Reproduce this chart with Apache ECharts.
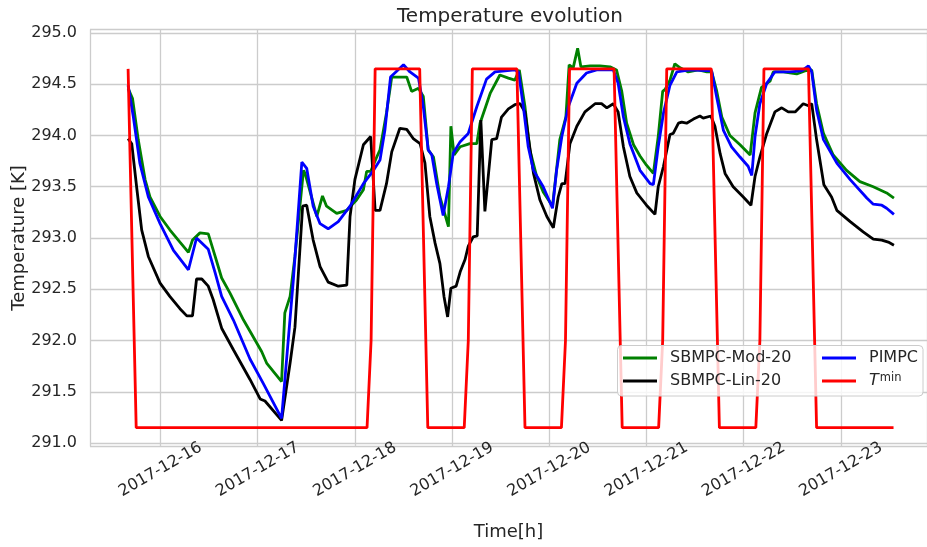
<!DOCTYPE html>
<html>
<head>
<meta charset="utf-8">
<script src="https://cdn.jsdelivr.net/npm/echarts@6/dist/echarts.min.js"></script>
<style>html,body{margin:0;padding:0;background:#fff}#c{width:927px;height:547px}</style>
</head>
<body>
<div id="c"></div>
<script>
// Time is given in hours since 2017-12-15 00:00
const xTickLabels = ['2017-12-16','2017-12-17','2017-12-18','2017-12-19','2017-12-20','2017-12-21','2017-12-22','2017-12-23'];

const modHours = [16,17.1,18.5,20.2,21.4,23.9,26.3,28.8,30.9,31.9,33.75,35.8,37.5,39.1,41.2,44.5,46.1,49.0,50.2,53.9,54.7,56.0,57.2,59.3,59.7,62.6,64.0,65.0,67.5,70.0,72.4,74.1,74.9,75.9,77.4,78.2,79.8,81.1,84.8,86.0,87.7,88.9,90.1,91.4,93.0,95.1,95.7,96.5,98.0,100.4,102.1,102.9,105.4,107.8,109.9,111.5,112.6,114.0,115.2,116.9,118.5,120.8,122.6,124.1,124.9,125.9,127.0,127.8,130.1,132.5,135.0,136.6,137.9,139.1,140.8,142.4,144.0,145.7,146.9,148.0,148.6,149.8,151.0,152.3,154.3,156.8,158.9,160.1,161.3,162.6,164.6,167.1,169.6,170.8,172.4,174.5,175.3,177.8,179.4,181.1,183.1,184.8,186.0,187.7,190.1,193.4,196.7,200.0,203.3,205.1];
const modValues = [294.46,294.36,293.96,293.57,293.40,293.21,293.08,292.96,292.86,292.98,293.05,293.04,292.82,292.61,292.46,292.20,292.09,291.89,291.78,291.60,292.27,292.43,292.82,293.66,293.63,293.21,293.41,293.31,293.24,293.27,293.37,293.47,293.65,293.65,293.79,293.86,294.22,294.57,294.57,294.43,294.46,294.38,293.86,293.79,293.40,293.11,294.09,293.81,293.89,293.92,293.92,294.12,294.41,294.59,294.56,294.54,294.64,294.28,293.86,293.60,293.45,293.31,293.96,294.18,294.69,294.66,294.85,294.67,294.68,294.68,294.67,294.64,294.43,294.12,293.91,293.80,293.71,293.63,293.99,294.43,294.45,294.54,294.70,294.66,294.62,294.64,294.62,294.62,294.44,294.18,294.00,293.91,293.81,294.22,294.47,294.53,294.62,294.62,294.61,294.60,294.63,294.64,294.31,294.02,293.81,293.66,293.55,293.50,293.44,293.39];

const linHours = [16,16.9,18.1,19.35,21.0,23.9,26.3,28.8,30.5,31.9,32.9,34.2,35.8,37.0,39.1,42.0,46.1,48.6,49.8,53.9,56.0,57.2,59.1,60.1,61.7,63.4,65.4,67.9,70.0,70.8,72.0,74.1,75.9,77.0,78.2,79.8,81.1,83.1,84.8,86.4,88.1,89.3,90.5,91.8,93.0,94.0,94.9,95.7,97.0,98.0,99.2,100.0,101.2,102.2,103.1,104.1,105.8,107.0,108.2,109.9,111.5,112.8,114.0,114.8,116.1,117.7,119.4,121.0,122.2,123.1,123.9,125.1,126.8,128.8,131.3,132.9,134.2,135.8,137.0,138.3,139.9,141.6,142.4,144.0,146.1,146.9,148.2,149.8,150.6,151.9,152.7,153.9,155.6,157.2,158.0,159.9,160.9,162.2,163.4,165.4,167.9,169.8,170.8,172.0,173.7,175.7,177.4,179.0,180.7,182.7,184.0,184.8,186.0,187.8,189.7,191.0,194.3,197.5,200.0,202.1,203.7,205.1];
const linValues = [293.97,293.92,293.50,293.08,292.82,292.56,292.43,292.31,292.24,292.24,292.60,292.60,292.53,292.40,292.12,291.91,291.62,291.43,291.41,291.22,291.78,292.13,293.31,293.32,292.98,292.72,292.57,292.53,292.54,293.21,293.57,293.91,293.99,293.27,293.27,293.53,293.84,294.07,294.06,293.97,293.92,293.73,293.21,292.95,292.75,292.43,292.23,292.51,292.53,292.67,292.79,292.92,293.01,293.02,294.15,293.26,293.96,293.97,294.18,294.26,294.30,294.31,294.23,293.99,293.63,293.37,293.21,293.10,293.40,293.53,293.53,293.92,294.09,294.23,294.31,294.31,294.27,294.31,294.23,293.89,293.60,293.44,293.40,293.32,293.23,293.50,293.70,294.01,294.02,294.12,294.13,294.12,294.16,294.19,294.17,294.19,294.09,293.82,293.63,293.50,293.40,293.32,293.60,293.79,294.02,294.23,294.27,294.23,294.23,294.31,294.29,294.31,293.96,293.52,293.40,293.27,293.16,293.06,292.99,292.98,292.96,292.93];

const piHours = [16,17.3,18.9,21.0,23.9,27.2,30.9,32.9,35.8,37.5,39.1,42.0,46.1,49.4,53.9,56.8,58.9,60.1,61.7,63.4,65.4,67.9,70.8,74.1,76.6,78.2,79.4,80.8,84.0,85.6,87.7,88.9,90.1,91.0,92.2,93.8,95.1,96.3,98.0,100.0,102.1,104.5,106.6,111.5,112.4,113.6,114.8,116.1,118.5,120.8,121.8,123.1,124.7,126.8,129.2,131.7,135.8,137.0,138.3,139.9,142.4,144.9,145.7,146.9,148.2,149.8,151.5,154.7,160.1,161.3,163.0,165.0,167.1,169.1,170.0,170.8,172.0,173.7,175.7,179.4,182.3,184.0,184.8,186.0,187.7,191.0,194.3,198.4,200.0,202.1,203.3,205.1];
const piValues = [294.49,294.18,293.73,293.40,293.14,292.88,292.69,293.00,292.89,292.66,292.43,292.20,291.82,291.58,291.24,292.59,293.74,293.68,293.31,293.14,293.09,293.16,293.31,293.53,293.66,293.76,294.05,294.57,294.69,294.62,294.56,294.28,293.86,293.81,293.53,293.22,293.50,293.83,293.94,294.02,294.28,294.55,294.62,294.64,294.62,294.28,293.89,293.66,293.50,293.29,293.66,293.99,294.28,294.51,294.61,294.64,294.64,294.51,294.18,293.92,293.66,293.53,293.52,293.89,294.22,294.49,294.62,294.64,294.63,294.38,294.05,293.89,293.79,293.70,293.61,293.99,294.31,294.51,294.62,294.62,294.63,294.68,294.62,294.25,293.96,293.73,293.57,293.39,293.33,293.32,293.29,293.23];

const tminHours = [16,18,75,76,77,88,90,99,100,101,112,114,123,124,125,136,138,147,148,149,160,162,171,172,173,184,186,205];
const tminValues = [294.65,291.15,291.15,292.0,294.65,294.65,291.15,291.15,292.0,294.65,294.65,291.15,291.15,292.0,294.65,294.65,291.15,291.15,292.0,294.65,294.65,291.15,291.15,292.0,294.65,294.65,291.15,291.15];

const seriesNames = ['SBMPC-Mod-20','SBMPC-Lin-20','PIMPC','Tmin'];
const seriesColors = ['#008000','#000000','#0000ff','#ff0000'];

function toPoints(hours, values) {
  return hours.map((h, i) => [(h - 24) / 24, values[i]]);
}

const FONT = 'DejaVu Sans';
const TXT = '#262626';
const chart = echarts.init(document.getElementById('c'), null, {renderer: 'canvas'});

const dataSets = [[modHours, modValues],[linHours, linValues],[piHours, piValues],[tminHours, tminValues]];
const series = dataSets.map((d, i) => ({
  name: seriesNames[i],
  type: 'line',
  data: toPoints(d[0], d[1]),
  symbol: 'none',
  showSymbol: false,
  lineStyle: {color: seriesColors[i], width: 2.8},
  itemStyle: {color: seriesColors[i]},
  z: 2 + i * 0.1,
  animation: false
}));

const legendText = {
  fontSize: 16, color: TXT, fontFamily: FONT, lineHeight: 18, padding: [0, 0, 0, 8],
  rich: {
    it: {fontStyle: 'italic', fontSize: 16, fontFamily: FONT, color: TXT, lineHeight: 18},
    sup: {fontSize: 11.5, fontFamily: FONT, color: TXT, verticalAlign: 'top', lineHeight: 18, padding: [0, 0, 0, 1]}
  }
};
const legendFmt = name => name === 'Tmin' ? '{it|T}{sup|min}' : name;
const legendBase = {
  orient: 'vertical', top: 349, padding: 0, itemGap: 5, icon: 'rect',
  itemWidth: 34, itemHeight: 3, z: 20, formatter: legendFmt, textStyle: legendText
};

chart.setOption({
  animation: false,
  backgroundColor: '#ffffff',
  title: {
    text: 'Temperature evolution', left: 510, top: 7, padding: 0, textAlign: 'center',
    textStyle: {fontSize: 20, fontWeight: 'normal', color: TXT, fontFamily: FONT}
  },
  grid: {left: 90, right: 0, top: 29.4, bottom: 100.4, containLabel: false, outerBoundsMode: 'none'},
  xAxis: {
    type: 'value', min: -0.7253, max: 7.886, splitNumber: 8,
    axisLine: {show: false}, axisTick: {show: false},
    splitLine: {show: true, lineStyle: {color: '#cccccc', width: 1.3}},
    axisLabel: {
      formatter: v => { const i = Math.round(v); return Math.abs(v - i) < 1e-6 ? (xTickLabels[i] || '') : ''; },
      rotate: 30, align: 'center', verticalAlign: 'middle', margin: 23,
      fontSize: 16, color: TXT, fontFamily: FONT, showMinLabel: false, showMaxLabel: false
    },
    name: 'Time[h]', nameLocation: 'middle', nameGap: 77, nameMoveOverlap: false,
    nameTextStyle: {fontSize: 18, color: TXT, fontFamily: FONT}
  },
  yAxis: {
    type: 'value', min: 290.965, max: 295.035, splitNumber: 8,
    axisLine: {show: false}, axisTick: {show: false},
    splitLine: {show: true, lineStyle: {color: '#cccccc', width: 1.3}},
    axisLabel: {formatter: v => v.toFixed(1), margin: 13, fontSize: 16, color: TXT, fontFamily: FONT, showMinLabel: false, showMaxLabel: false},
    name: 'Temperature [K]', nameLocation: 'middle', nameGap: 62, nameRotate: 90, nameMoveOverlap: false,
    nameTextStyle: {fontSize: 18, color: TXT, fontFamily: FONT}
  },
  graphic: [{
    type: 'rect', z: 10,
    shape: {x: 617.5, y: 345.5, width: 305.5, height: 50.5, r: 4},
    style: {fill: 'rgba(255,255,255,0.8)', stroke: '#cccccc', lineWidth: 1}
  }],
  legend: [
    Object.assign({data: ['SBMPC-Mod-20','SBMPC-Lin-20'], left: 623}, legendBase),
    Object.assign({data: ['PIMPC','Tmin'], left: 822}, legendBase)
  ],
  series: series
});
</script>
</body>
</html>
